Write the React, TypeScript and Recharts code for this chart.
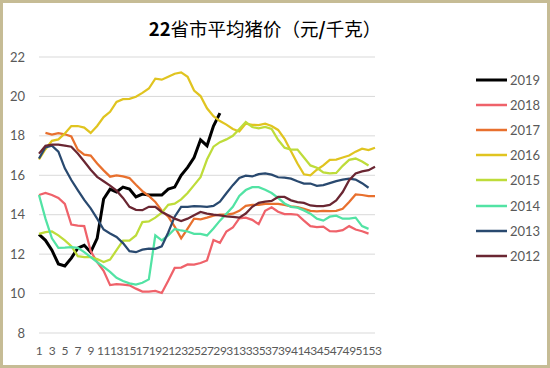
import { CartesianGrid, Legend, Line, LineChart, XAxis, YAxis } from "recharts";

const weeks = [
  1, 2, 3, 4, 5, 6, 7, 8, 9, 10, 11, 12, 13, 14, 15, 16, 17, 18, 19, 20, 21, 22, 23, 24, 25, 26, 27,
  28, 29, 30, 31, 32, 33, 34, 35, 36, 37, 38, 39, 40, 41, 42, 43, 44, 45, 46, 47, 48, 49, 50, 51, 52, 53,
];

const y2019 = [
  13.0, 12.7, 12.2, 11.5, 11.4, 11.8, 12.3, 12.45, 12.1, 12.8, 14.8, 15.3, 15.15, 15.4, 15.3, 14.9, 15.05,
  15.0, 15.0, 15.0, 15.3, 15.4, 16.0, 16.4, 16.9, 17.8, 17.5, 18.5, 19.15,
];
const y2018 = [
  15.0, 15.1, 15.0, 14.85, 14.55, 13.5, 13.45, 13.42, 12.15, 11.6, 11.15, 10.43, 10.48, 10.45, 10.42, 10.25,
  10.1, 10.1, 10.14, 10.03, 10.65, 11.3, 11.32, 11.48, 11.47, 11.55, 11.68, 12.72, 12.58, 13.15, 13.35, 13.82,
  13.85, 13.74, 13.52, 14.2, 14.38, 14.15, 14.03, 14.03, 14.0, 13.7, 13.42, 13.37, 13.4, 13.17, 13.16, 13.22,
  13.42, 13.25, 13.16, 13.04, null,
];
const y2017 = [
  null, 18.15, 18.07, 18.14, 18.08, 17.97, 17.3, 17.05, 17.0, 16.6, 16.25, 15.93, 16.0, 15.94, 15.86, 15.52,
  15.2, 14.95, 14.65, 14.2, 13.9, 13.4, 12.8, 13.3, 13.8, 13.77, 13.85, 13.95, 14.0, 14.0, 14.05, 14.2, 14.45,
  14.5, 14.5, 14.55, 14.55, 14.55, 14.5, 14.42, 14.38, 14.3, 14.2, 14.17, 14.2, 14.18, 14.2, 14.3, 14.64,
  15.03, 15.0, 14.94, 14.94,
];
const y2016 = [
  16.8, 17.32, 17.75, 17.82, 18.12, 18.5, 18.5, 18.42, 18.15, 18.5, 18.95, 19.22, 19.72, 19.86, 19.88, 19.98,
  20.18, 20.4, 20.9, 20.85, 21.0, 21.15, 21.22, 21.0, 20.3, 20.02, 19.4, 19.0, 18.75, 18.57, 18.35, 18.22,
  18.62, 18.56, 18.55, 18.62, 18.5, 18.3, 17.85, 17.22, 16.6, 16.05, 16.0, 16.28, 16.5, 16.78, 16.8, 16.9,
  17.0, 17.2, 17.35, 17.28, 17.4,
];
const y2015 = [
  13.03, 13.12, 13.15, 12.95, 12.7, 12.4, 11.9, 11.85, 11.85, 11.75, 11.6, 11.72, 12.2, 12.69, 12.69, 12.95,
  13.63, 13.66, 13.85, 14.1, 14.5, 14.56, 14.78, 15.1, 15.5, 15.9, 16.8, 17.45, 17.68, 17.82, 18.0, 18.35,
  18.7, 18.45, 18.38, 18.45, 18.35, 17.8, 17.4, 17.3, 17.3, 16.9, 16.5, 16.38, 16.15, 16.1, 16.12, 16.48,
  16.78, 16.85, 16.7, 16.5, null,
];
const y2014 = [
  15.0, 13.8, 12.8, 12.32, 12.33, 12.35, 12.32, 12.1, 11.85, 11.6, 11.35, 11.1, 10.8, 10.64, 10.52, 10.45,
  10.55, 10.72, 12.95, 12.7, 12.95, 13.28, 13.2, 13.15, 13.03, 13.03, 12.95, 13.3, 13.7, 14.05, 14.4, 14.95,
  15.25, 15.4, 15.4, 15.27, 15.1, 14.85, 14.57, 14.4, 14.36, 14.22, 14.05, 13.8, 13.7, 13.9, 13.95, 13.8,
  13.8, 13.85, 13.42, 13.28, null,
];
const y2013 = [
  16.85, 17.42, 17.5, 17.2, 16.35, 15.76, 15.25, 14.75, 14.32, 13.8, 13.25, 13.05, 12.87, 12.56, 12.15, 12.1,
  12.23, 12.28, 12.27, 12.4, 13.1, 13.9, 14.4, 14.4, 14.43, 14.42, 14.4, 14.45, 14.66, 15.09, 15.5, 15.86,
  15.98, 15.94, 16.06, 16.1, 16.03, 15.9, 15.88, 15.83, 15.7, 15.58, 15.58, 15.46, 15.5, 15.6, 15.7, 15.78,
  15.83, 15.78, 15.6, 15.37, null,
];
const y2012 = [
  17.1, 17.5, 17.55, 17.55, 17.5, 17.45, 17.1, 16.7, 16.28, 15.92, 15.7, 15.48, 15.22, 14.85, 14.4, 14.25,
  14.23, 14.4, 14.4, 14.14, 13.97, 13.8, 13.68, 13.8, 13.97, 14.14, 14.06, 14.0, 13.97, 13.92, 13.89, 13.85,
  14.06, 14.4, 14.6, 14.66, 14.7, 14.9, 14.9, 14.73, 14.64, 14.6, 14.47, 14.44, 14.44, 14.5, 14.73, 15.15,
  15.75, 16.09, 16.2, 16.26, 16.43,
];

const yTicks = [8, 10, 12, 14, 16, 18, 20, 22];

const series = [
  { key: "2019", values: y2019, color: "#000000", width: 3 },
  { key: "2018", values: y2018, color: "#EF626A", width: 2.25 },
  { key: "2017", values: y2017, color: "#E8702E", width: 2.25 },
  { key: "2016", values: y2016, color: "#E0C420", width: 2.25 },
  { key: "2015", values: y2015, color: "#BEDC3A", width: 2.25 },
  { key: "2014", values: y2014, color: "#52E3A4", width: 2.25 },
  { key: "2013", values: y2013, color: "#29496F", width: 2.25 },
  { key: "2012", values: y2012, color: "#6A2632", width: 2.25 },
];

const data = weeks.map((w, i) => {
  const row: Record<string, number | null> = { week: w };
  series.forEach((s) => {
    const v = s.values[i];
    row[s.key] = v === undefined ? null : v;
  });
  return row;
});

const yFont = { fontFamily: "Lato, 'Noto Sans', sans-serif", fontSize: 13, fill: "#595959" };
const xFont = { fontFamily: "Lato, 'Noto Sans', sans-serif", fontSize: 12, fill: "#595959", letterSpacing: -0.4 };

function LegendBox({ payload }: any) {
  const items = [...(payload || [])].sort(
    (a: any, b: any) =>
      series.findIndex((s) => s.key === a.value) - series.findIndex((s) => s.key === b.value),
  );
  return (
    <div style={{ display: "flex", flexDirection: "column" }}>
      {items.map((item: any) => (
        <div key={item.value} style={{ display: "flex", alignItems: "center", height: 25.2 }}>
          <svg width={31} height={6}>
            <line x1={0} y1={3} x2={31} y2={3} stroke={item.color} strokeWidth={item.value === "2019" ? 3 : 2.5} />
          </svg>
          <span
            style={{
              fontFamily: "Lato, 'Noto Sans', sans-serif",
              fontSize: 13,
              color: "#595959",
              marginLeft: 3,
            }}
          >
            {item.value}
          </span>
        </div>
      ))}
    </div>
  );
}

export default function App() {
  return (
    <div
      style={{
        position: "absolute",
        left: 0,
        top: 0,
        width: 550,
        height: 368,
        boxSizing: "border-box",
        border: "3px solid #C6BC95",
        background: "#ffffff",
        overflow: "hidden",
      }}
    >
      <div
        style={{
          position: "absolute",
          left: 0,
          right: 0,
          top: 13,
          textAlign: "center",
          paddingRight: 20,
          fontFamily: "'Noto Sans CJK SC', sans-serif",
          fontSize: 18.5,
          color: "#000",
          lineHeight: "24px",
        }}
      >
        <b>22</b>省市平均猪价（元<b>/</b>千克）
      </div>
      <div style={{ position: "absolute", left: -3, top: -3 }}>
        <LineChart width={550} height={368} data={data} margin={{ top: 57, right: 105, bottom: 5, left: 9 }}>
          <CartesianGrid horizontal vertical={false} stroke="#D9D9D9" strokeWidth={1} />
          <XAxis
            dataKey="week"
            interval={1}
            axisLine={false}
            tickLine={false}
            tickMargin={7}
            height={30}
            tick={xFont}
          />
          <YAxis
            domain={[8, 22]}
            ticks={yTicks}
            axisLine={false}
            tickLine={false}
            tickMargin={8}
            width={30}
            tick={yFont}
          />
          <Legend
            layout="vertical"
            align="right"
            verticalAlign="top"
            content={<LegendBox />}
            wrapperStyle={{ left: 476, top: 67, width: 70 }}
          />
          {series.map((s) => (
            <Line
              key={s.key}
              dataKey={s.key}
              name={s.key}
              type="linear"
              stroke={s.color}
              strokeWidth={s.width}
              dot={false}
              activeDot={false}
              isAnimationActive={false}
            />
          ))}
        </LineChart>
      </div>
    </div>
  );
}
